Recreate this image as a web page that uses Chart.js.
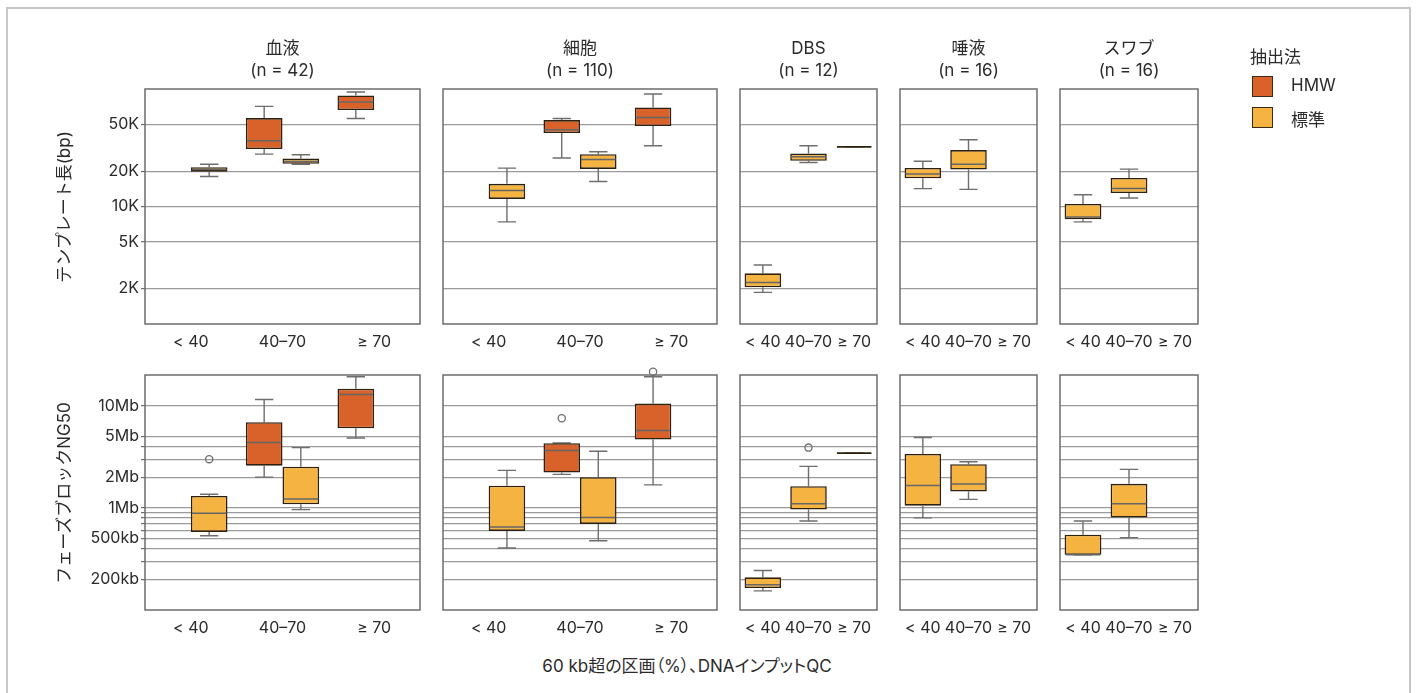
<!DOCTYPE html>
<html lang="ja">
<head>
<meta charset="utf-8">
<title>テンプレート長とフェーズブロックNG50</title>
<script src="https://cdn.jsdelivr.net/npm/chart.js@4.4.1/dist/chart.umd.min.js"></script>
<style>
  html, body { margin: 0; padding: 0; background: #fff; }
  #fig {
    position: relative; width: 1416px; height: 693px; overflow: hidden;
    font-family: Inter, 'Noto Sans CJK JP', sans-serif; color: #2a2a2a;
  }
  #frame {
    position: absolute; left: 6px; top: 7px; width: 1405px; height: 720px;
    border: 2px solid #c6c6c6; box-sizing: border-box;
  }
  #fig canvas { position: absolute; }
  .txt { position: absolute; white-space: nowrap; font-size: 17px; }
  .ptitle { text-align: center; line-height: 22px; transform: translateX(-50%); }
  .ytitle { transform: translate(-50%, -50%) rotate(-90deg); }
  .xtitle { transform: translateX(-50%); font-feature-settings: "palt" 1; }
  .swatch { position: absolute; width: 21px; height: 21px; border: 1.5px solid #3a2a1a; box-sizing: border-box; }
</style>
</head>
<body>
<div id="fig">
  <div id="frame"></div>
</div>
<script>
// facets, categories and legend
var categories = ['< 40', '40–70', '≥ 70'];
var sampleTypes = ['血液', '細胞', 'DBS', '唾液', 'スワブ'];
var sampleCounts = [42, 110, 12, 16, 16];
var methods = ['HMW', '標準'];

// box stats per category: [lower whisker, Q1, median, Q3, upper whisker]; null = no samples
// template length (bp)
var bloodLenHMW   = [null, [27900, 30800, 36300, 56600, 71100], [56100, 66200, 77400, 88200, 94300]];
var bloodLenStd   = [[18000, 19800, 20600, 21600, 22900], [22900, 23100, 24200, 25600, 27600], null];
var cellLenHMW    = [null, [25900, 42200, 45000, 54400, 56100], [32900, 48400, 57300, 69700, 90600]];
var cellLenStd    = [[7400, 11600, 13700, 15600, 21200], [16300, 20900, 25100, 27900, 29200], null];
var dbsLenStd     = [[1860, 2050, 2260, 2700, 3180], [23700, 24500, 26500, 28200, 32900], [32200, 32200, 32200, 32200, 32200]];
var salivaLenStd  = [[14200, 17400, 18900, 21300, 24300], [14000, 20600, 22900, 30200, 37000], null];
var swabLenStd    = [[7400, 7800, 8150, 10500, 12600], [11800, 13000, 14200, 17500, 20800], null];

// phase block NG50 (bp)
var bloodNgHMW    = [null, [2.0e6, 2.59e6, 4.36e6, 6.9e6, 11.5e6], [4.84e6, 6.02e6, 12.9e6, 14.7e6, 19.2e6]];
var bloodNgStd    = [[534e3, 581e3, 885e3, 1.31e6, 1.36e6], [962e3, 1.085e6, 1.22e6, 2.53e6, 3.89e6], null];
var cellNgHMW     = [null, [2.13e6, 2.22e6, 3.64e6, 4.3e6, 4.31e6], [1.68e6, 4.66e6, 5.71e6, 10.5e6, 19.2e6]];
var cellNgStd     = [[404e3, 594e3, 650e3, 1.65e6, 2.33e6], [477e3, 697e3, 803e3, 2.0e6, 3.58e6], null];
var dbsNgStd      = [[154e3, 164e3, 177e3, 209e3, 244e3], [745e3, 962e3, 1.095e6, 1.63e6, 2.55e6], [3.44e6, 3.44e6, 3.44e6, 3.44e6, 3.44e6]];
var salivaNgStd   = [[798e3, 1.05e6, 1.66e6, 3.37e6, 4.88e6], [1.21e6, 1.45e6, 1.71e6, 2.68e6, 2.83e6], null];
var swabNgStd     = [[347e3, 347e3, 347e3, 547e3, 745e3], [511e3, 803e3, 1.095e6, 1.72e6, 2.38e6], null];

// outliers per category
var bloodNgStdOut = [[3.0e6], [], []];
var cellNgHMWOut  = [[], [7.55e6], [21.5e6]];
var dbsNgStdOut   = [[], [3.89e6], []];

// axes
var lenRange = [1000, 100000];
var lenTicks = [2000, 5000, 10000, 20000, 50000];
var lenTickLabels = ['2K', '5K', '10K', '20K', '50K'];
var ngRange = [100e3, 20e6];
var ngTicks = [200e3, 300e3, 400e3, 500e3, 600e3, 700e3, 800e3, 900e3, 1e6, 2e6, 3e6, 4e6, 5e6, 10e6];
var ngTickLabels = ['200kb', '', '', '500kb', '', '', '', '', '1Mb', '2Mb', '', '', '5Mb', '10Mb'];

var yTitles = ['テンプレート長(bp)', 'フェーズブロックNG50'];
var xTitle = '60 kb超の区画（%）、DNAインプットQC';
var legendTitle = '抽出法';

// styling / layout
var FONT = "Inter, 'Noto Sans CJK JP', sans-serif";
var TICK_SIZE = 16;
var TEXT = '#2a2a2a';
var HMW_COLOR = '#d9622b';
var STD_COLOR = '#f5b342';
var BOX_EDGE = '#2e200e';
var WHISKER = '#6e6e6e';
var MEDIAN = '#666666';
var GRID = '#9a9a9a';
var FRAME = '#6c6c6c';

var colLeft = [145, 443, 740, 900, 1060];
var colWidth = [275, 274, 137, 137, 138];
var rowTop = [89, 375];
var panelH = 235;

var fig = document.getElementById('fig');

function addText(cls, html, left, top) {
    var d = document.createElement('div');
    d.className = 'txt ' + cls;
    d.innerHTML = html;
    d.style.left = left + 'px';
    d.style.top = top + 'px';
    fig.appendChild(d);
    return d;
}

var boxPlugin = {
    id: 'boxWhisker',
    beforeDatasetsDraw: function (chart) {
        var ctx = chart.ctx, y = chart.scales.y;
        ctx.save();
        ctx.strokeStyle = WHISKER;
        ctx.lineWidth = 1.4;
        chart.data.datasets.forEach(function (ds, di) {
            var meta = chart.getDatasetMeta(di);
            ds.stats.forEach(function (s, i) {
                if (!s) return;
                var bar = meta.data[i];
                var cx = bar.x, half = bar.width / 4;
                var lo = y.getPixelForValue(s[0]), q1 = y.getPixelForValue(s[1]);
                var q3 = y.getPixelForValue(s[3]), hi = y.getPixelForValue(s[4]);
                ctx.beginPath();
                ctx.moveTo(cx, lo); ctx.lineTo(cx, q1);
                ctx.moveTo(cx, q3); ctx.lineTo(cx, hi);
                ctx.moveTo(cx - half, lo); ctx.lineTo(cx + half, lo);
                ctx.moveTo(cx - half, hi); ctx.lineTo(cx + half, hi);
                ctx.stroke();
            });
        });
        ctx.restore();
    },
    afterDatasetsDraw: function (chart) {
        var ctx = chart.ctx, y = chart.scales.y;
        ctx.save();
        chart.data.datasets.forEach(function (ds, di) {
            var meta = chart.getDatasetMeta(di);
            ds.stats.forEach(function (s, i) {
                if (!s) return;
                var bar = meta.data[i];
                var x0 = bar.x - bar.width / 2, x1 = bar.x + bar.width / 2;
                var my = y.getPixelForValue(s[2]);
                ctx.beginPath();
                if (s[1] === s[3]) {
                    ctx.strokeStyle = BOX_EDGE;
                    ctx.lineWidth = 1.7;
                } else {
                    ctx.strokeStyle = MEDIAN;
                    ctx.lineWidth = 1.5;
                }
                ctx.moveTo(x0 + 1, my); ctx.lineTo(x1 - 1, my);
                ctx.stroke();
                var outs = ds.outliers ? ds.outliers[i] : [];
                outs.forEach(function (v) {
                    ctx.beginPath();
                    ctx.strokeStyle = WHISKER;
                    ctx.lineWidth = 1.3;
                    ctx.arc(bar.x, y.getPixelForValue(v), 3.6, 0, Math.PI * 2);
                    ctx.stroke();
                });
            });
        });
        ctx.restore();
    },
    afterDraw: function (chart) {
        var a = chart.chartArea, ctx = chart.ctx;
        ctx.save();
        ctx.strokeStyle = FRAME;
        ctx.lineWidth = 1.5;
        ctx.strokeRect(a.left, a.top, a.right - a.left, a.bottom - a.top);
        ctx.restore();
    }
};

function makeDataset(label, color, stats, outliers) {
    return {
        label: label,
        data: stats.map(function (s) { return s ? [s[1], s[3]] : null; }),
        stats: stats,
        outliers: outliers,
        backgroundColor: color,
        borderColor: BOX_EDGE,
        borderWidth: 1.6,
        borderSkipped: false,
        barPercentage: 1.0,
        categoryPercentage: 0.8
    };
}

function makePanel(row, col, datasets, range, ticks, tickLabels) {
    var first = col === 0;
    var padL = first ? 80 : 10, padR = 10, padT = 12, padB = 30;
    var canvas = document.createElement('canvas');
    canvas.width = colWidth[col] + padL + padR;
    canvas.height = panelH + padT + padB;
    canvas.style.left = (colLeft[col] - padL) + 'px';
    canvas.style.top = (rowTop[row] - padT) + 'px';
    fig.appendChild(canvas);

    new Chart(canvas.getContext('2d'), {
        type: 'bar',
        data: { labels: categories, datasets: datasets },
        plugins: [boxPlugin],
        options: {
            responsive: false,
            animation: false,
            events: [],
            layout: { padding: { left: first ? 4 : padL, right: padR, top: padT, bottom: 0 } },
            plugins: { legend: { display: false }, tooltip: { enabled: false } },
            scales: {
                x: {
                    grid: { display: false, drawTicks: false },
                    border: { display: false },
                    ticks: {
                        color: TEXT,
                        font: { family: FONT, size: TICK_SIZE },
                        padding: 9,
                        maxRotation: 0,
                        autoSkip: false
                    },
                    afterFit: function (axis) { axis.height = padB; }
                },
                y: {
                    type: 'logarithmic',
                    min: range[0],
                    max: range[1],
                    afterBuildTicks: function (axis) {
                        axis.ticks = ticks.map(function (v) { return { value: v }; });
                    },
                    grid: {
                        color: GRID,
                        lineWidth: 1.2,
                        drawTicks: first,
                        tickLength: 4,
                        tickColor: FRAME
                    },
                    border: { display: false },
                    ticks: {
                        display: first,
                        autoSkip: false,
                        color: TEXT,
                        font: { family: FONT, size: TICK_SIZE },
                        padding: 2,
                        callback: function (value, index) { return tickLabels[index]; }
                    },
                    afterFit: function (axis) { axis.width = first ? padL - 4 : 0; }
                }
            }
        }
    });
}

// top row: template length
makePanel(0, 0, [makeDataset(methods[0], HMW_COLOR, bloodLenHMW), makeDataset(methods[1], STD_COLOR, bloodLenStd)], lenRange, lenTicks, lenTickLabels);
makePanel(0, 1, [makeDataset(methods[0], HMW_COLOR, cellLenHMW), makeDataset(methods[1], STD_COLOR, cellLenStd)], lenRange, lenTicks, lenTickLabels);
makePanel(0, 2, [makeDataset(methods[1], STD_COLOR, dbsLenStd)], lenRange, lenTicks, lenTickLabels);
makePanel(0, 3, [makeDataset(methods[1], STD_COLOR, salivaLenStd)], lenRange, lenTicks, lenTickLabels);
makePanel(0, 4, [makeDataset(methods[1], STD_COLOR, swabLenStd)], lenRange, lenTicks, lenTickLabels);

// bottom row: phase block NG50
makePanel(1, 0, [makeDataset(methods[0], HMW_COLOR, bloodNgHMW), makeDataset(methods[1], STD_COLOR, bloodNgStd, bloodNgStdOut)], ngRange, ngTicks, ngTickLabels);
makePanel(1, 1, [makeDataset(methods[0], HMW_COLOR, cellNgHMW, cellNgHMWOut), makeDataset(methods[1], STD_COLOR, cellNgStd)], ngRange, ngTicks, ngTickLabels);
makePanel(1, 2, [makeDataset(methods[1], STD_COLOR, dbsNgStd, dbsNgStdOut)], ngRange, ngTicks, ngTickLabels);
makePanel(1, 3, [makeDataset(methods[1], STD_COLOR, salivaNgStd)], ngRange, ngTicks, ngTickLabels);
makePanel(1, 4, [makeDataset(methods[1], STD_COLOR, swabNgStd)], ngRange, ngTicks, ngTickLabels);

// facet titles
sampleTypes.forEach(function (name, i) {
    addText('ptitle', name + '<br>(n = ' + sampleCounts[i] + ')', colLeft[i] + colWidth[i] / 2, 37);
});

// axis titles
yTitles.forEach(function (t, r) {
    addText('ytitle', t, 62, rowTop[r] + panelH / 2);
});
addText('xtitle', xTitle, 687, 652);

// legend
addText('', legendTitle, 1250, 43);
[HMW_COLOR, STD_COLOR].forEach(function (c, i) {
    var sw = document.createElement('div');
    sw.className = 'swatch';
    sw.style.left = '1252px';
    sw.style.top = (76 + i * 31) + 'px';
    sw.style.background = c;
    fig.appendChild(sw);
    addText('', methods[i], 1291, 75 + i * 31);
});
</script>
</body>
</html>
